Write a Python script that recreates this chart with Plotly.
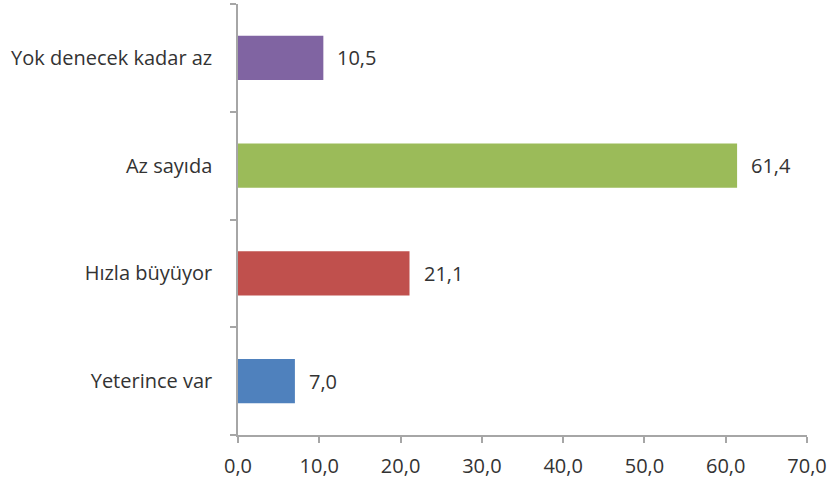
import plotly.graph_objects as go

# ── veri ──────────────────────────────────────────────────────────────────────
categories = ["Yeterince var", "Hızla büyüyor", "Az sayıda", "Yok denecek kadar az"]
values = [7.0, 21.1, 61.4, 10.5]
bar_colors = ["#4F81BD", "#C0504D", "#9BBB59", "#8064A2"]
x_ticks = [0, 10, 20, 30, 40, 50, 60, 70]

AXIS_GRAY = "#A6A6A6"
TEXT = "#333333"
FS = 20

fig = go.Figure()

fig.add_trace(go.Bar(
    x=values,
    y=categories,
    orientation="h",
    marker=dict(color=bar_colors, line=dict(width=0)),
    hoverinfo="skip",
))

# değer etiketleri (çubuğun sağında)
for v, c in zip(values, categories):
    fig.add_annotation(
        x=v, y=c,
        text=f"{v:.1f}".replace(".", ","),
        showarrow=False,
        xanchor="left",
        xshift=12,
        font=dict(size=FS, color=TEXT),
    )

fig.update_layout(
    width=838,
    height=483,
    paper_bgcolor="white",
    plot_bgcolor="white",
    font=dict(family="Open Sans, sans-serif", size=FS, color=TEXT),
    margin=dict(l=238, r=31, t=4, b=48),
    bargap=0.59,
    showlegend=False,
    separators=",.",
    xaxis=dict(
        range=[0, 70],
        tickvals=x_ticks,
        tickformat=".1f",
        showgrid=False,
        zeroline=False,
        showline=True,
        linecolor=AXIS_GRAY,
        linewidth=1.5,
        ticks="outside",
        ticklen=6,
        tickcolor=AXIS_GRAY,
        tickwidth=1.5,
        ticklabelstandoff=6,
        tickfont=dict(size=FS, color=TEXT),
        automargin=False,
    ),
    yaxis=dict(
        categoryorder="array",
        categoryarray=categories,
        showgrid=False,
        zeroline=False,
        showline=True,
        linecolor=AXIS_GRAY,
        linewidth=1.5,
        ticks="outside",
        tickson="boundaries",
        ticklen=6,
        tickcolor=AXIS_GRAY,
        tickwidth=1.5,
        ticklabelstandoff=20,
        tickfont=dict(size=FS, color=TEXT),
        automargin=False,
    ),
)

fig.write_html(
    "out.html",
    config={"displayModeBar": False},
    post_script="document.body.style.margin='0';",
)
